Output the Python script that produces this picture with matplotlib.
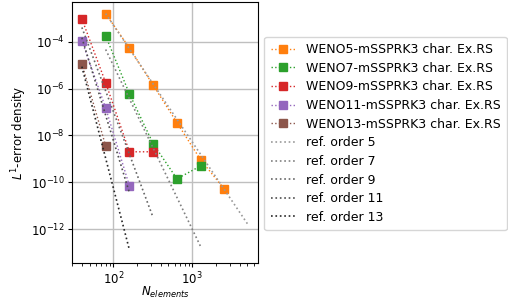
import numpy as np
import matplotlib
matplotlib.use("Agg")
import matplotlib.pyplot as plt

# measured errors
n5 = [80, 160, 320, 640, 1280, 2560]
e5 = [1.6e-3, 5.5e-5, 1.4e-6, 3.5e-8, 9e-10, 5e-11]
n7 = [80, 160, 320, 640, 1280]
e7 = [1.8e-4, 6e-7, 4.4e-9, 1.4e-10, 5e-10]
n9 = [40, 80, 160, 320]
e9 = [9.5e-4, 1.8e-6, 2e-9, 2e-9]
n11 = [40, 80, 160]
e11 = [1.1e-4, 1.5e-7, 7e-11]
n13 = [40, 80]
e13 = [1.15e-5, 3.6e-9]

# reference slopes: order, N range, start value
ref_orders = [5, 7, 9, 11, 13]
ref_nmin = [80, 80, 40, 40, 40]
ref_nmax = [5120, 1280, 320, 160, 160]
ref_start = [1.6e-3, 4.7e-5, 4.1e-4, 1.5e-4, 8.7e-6]
ref_grays = ['0.6', '0.5', '0.4', '0.3', '0.15']

plt.rcParams['font.size'] = 8.5

fig = plt.figure(figsize=(5.08, 3.06), dpi=100)
ax = fig.add_axes([72/508, 1 - 263/306, 186/508, 261/306])

series = [(n5, e5, 'C1', 'WENO5'), (n7, e7, 'C2', 'WENO7'), (n9, e9, 'C3', 'WENO9'),
          (n11, e11, 'C4', 'WENO11'), (n13, e13, 'C5', 'WENO13')]
for n, e, c, name in series:
    ax.plot(n, e, ':', color=c, marker='s', markersize=6, linewidth=1,
            label=name + '-mSSPRK3 char. Ex.RS')

for p, a, b, s, g in zip(ref_orders, ref_nmin, ref_nmax, ref_start, ref_grays):
    xs = np.array([a, b], dtype=float)
    ax.plot(xs, s * (xs / a) ** (-p), ':', color=g, linewidth=1.2,
            label='ref. order %d' % p)

ax.set_xscale('log')
ax.set_yscale('log')
ax.set_xlim(30, 6800)
ax.set_ylim(10**-13.45, 10**-2.3)
ax.set_yticks([1e-12, 1e-10, 1e-8, 1e-6, 1e-4])
ax.tick_params(which='major', length=3, pad=2.5)
ax.tick_params(which='minor', length=2)
ax.grid(True, which='major', color='0.75', linewidth=1)
ax.set_xlabel('$N_{elements}$', labelpad=-2)
ax.set_ylabel('$L^1$-error density', labelpad=1)
ax.legend(loc='upper left', bbox_to_anchor=(1.0, 0.89), fontsize=9,
          labelspacing=0.45, borderpad=0.5)

fig.savefig('out.png', dpi=100)
plt.close(fig)
